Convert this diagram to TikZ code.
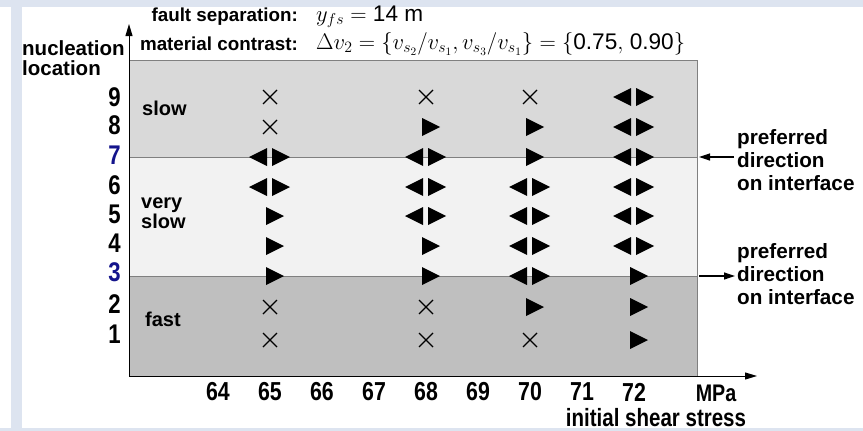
\RequirePackage{fix-cm}
\documentclass[tikz,border=0pt]{standalone}
\usepackage{fontspec}
\setmainfont{Liberation Sans}
\newfontfamily\narrowsans[FakeStretch=0.82]{Liberation Sans}
\usetikzlibrary{arrows.meta}

\definecolor{pageblue}{RGB}{221,228,240}
\definecolor{bandslow}{RGB}{217,217,217}
\definecolor{bandvslow}{RGB}{242,242,242}
\definecolor{bandfast}{RGB}{191,191,191}
\definecolor{rowblue}{RGB}{20,20,140}
\definecolor{edgegray}{RGB}{128,128,128}

\newcommand\pxsize[2]{\fontsize{#1}{#2}\selectfont}

\begin{document}
\begin{tikzpicture}[x=1pt,y=-1pt,
  lbl/.style={font=\bfseries\pxsize{20}{17}, align=left, inner sep=0pt},
  sidelbl/.style={font=\bfseries\pxsize{20.7}{23}, align=left, inner sep=0pt, anchor=west},
  headlbl/.style={font=\bfseries\pxsize{18.8}{20}, inner sep=0pt, anchor=east},
  headmath/.style={font=\pxsize{22.6}{23}, inner sep=0pt, anchor=west},
  ticklbl/.style={font=\narrowsans\bfseries\pxsize{26}{26}, inner sep=0pt},
  rowlbl/.style={font=\narrowsans\bfseries\pxsize{27}{27}, inner sep=0pt, anchor=east},
  axisline/.style={line width=1pt, -{Triangle[length=12pt,width=7pt]}},
  pointer/.style={line width=1.2pt, -{Triangle[length=11pt,width=7pt]}},
  bandedge/.style={edgegray, line width=0.9pt},
  crossline/.style={line width=1.3pt},
]
% page background and frame stripes
\useasboundingbox (0,0) rectangle (863,431);
\fill[white] (0,0) rectangle (863,431);
\fill[pageblue] (0,0) rectangle (863,7);
\fill[pageblue] (11,0) rectangle (22,431);
\fill[pageblue] (0,428) rectangle (863,431);

% speed bands
\fill[bandslow]  (129,60)  rectangle (697,157);
\fill[bandvslow] (129,157) rectangle (697,276);
\fill[bandfast]  (129,276) rectangle (697,376);
\draw[bandedge] (129,60) -- (697,60) -- (697,376);
\draw[bandedge] (129,157) -- (697,157);
\draw[bandedge] (129,276) -- (697,276);

% axes
\coordinate (origin) at (129,376);
\coordinate (ytip) at (129,24);
\coordinate (xtip) at (757,376);
\draw[axisline] (origin) -- (ytip);
\draw[axisline] (origin) -- (xtip);

% header
\node[headlbl] (hsep) at (298,17) {fault separation:};
\node[headlbl] (hmat) at (298,44) {material contrast:};
\node[headmath] (msep) at (316,17) {$y_{fs} = {}$14 m};
\node[headmath] (mmat) at (316,44) {$\Delta v_2 = \{v_{s_2}/v_{s_1}, v_{s_3}/v_{s_1}\} = \{$0.75$,$ 0.90$\}$};

% vertical axis title
\node[font=\bfseries\pxsize{20.5}{20}, align=left, inner sep=0pt, anchor=west] (ytitle) at (22,58) {nucleation\\location};

% row labels
\foreach \r/\y/\c in {9/97/black, 8/125/black, 7/155/rowblue, 6/185/black, 5/214/black, 4/243/black, 3/272/rowblue, 2/304/black, 1/334/black}
  \node[rowlbl, text=\c] (row\r) at (121,\y) {\r};

% tick labels
\foreach \k in {64,...,72}
  \node[ticklbl] (tick\k) at ({218+52*(\k-64)},392) {\k};
\node[font=\narrowsans\bfseries\pxsize{24}{24}, inner sep=0pt] (unit) at (716,393) {MPa};
\node[font=\narrowsans\bfseries\pxsize{25}{25}, inner sep=0pt] (xtitle) at (656,417.5) {initial shear stress};

% band names
\node[lbl, anchor=west] (lslow) at (142,108) {slow};
\node[lbl, anchor=west] (lvslow) at (141,213) {very\\slow};
\node[lbl, anchor=west] (lfast) at (145,319) {fast};

% preferred direction notes
\node[sidelbl] (prefup) at (737,160) {preferred\\direction\\on interface};
\node[sidelbl] (preflow) at (737,274) {preferred\\direction\\on interface};
\coordinate (upfrom) at (734,157);
\coordinate (upto) at (699,157);
\coordinate (lowfrom) at (699,276);
\coordinate (lowto) at (735,276);
\draw[pointer] (upfrom) -- (upto);
\draw[pointer] (lowfrom) -- (lowto);

% rupture outcomes: 0 = no rupture, 1 = rightward, 2 = bilateral
\foreach \c/\r/\t in {
  65/9/0, 68/9/0, 70/9/0, 72/9/2,
  65/8/0, 68/8/1, 70/8/1, 72/8/2,
  65/7/2, 68/7/2, 70/7/1, 72/7/2,
  65/6/2, 68/6/2, 70/6/2, 72/6/2,
  65/5/1, 68/5/2, 70/5/2, 72/5/2,
  65/4/1, 68/4/1, 70/4/2, 72/4/2,
  65/3/1, 68/3/1, 70/3/2, 72/3/1,
  65/2/0, 68/2/0, 70/2/1, 72/2/1,
  65/1/0, 68/1/0, 70/1/0, 72/1/1}
{
  \pgfmathsetmacro\cx{218+52*(\c-64)}
  \pgfmathsetmacro\cy{{0,340,307,276,246,216,187,157,127,97}[\r]}
  \ifnum\t=0
    \draw[crossline] (\cx-7,\cy-7) -- (\cx+7,\cy+7) (\cx-7,\cy+7) -- (\cx+7,\cy-7);
  \fi
  \ifnum\t=1
    \fill (\cx-4,\cy-9) -- (\cx+14,\cy) -- (\cx-4,\cy+9) -- cycle;
  \fi
  \ifnum\t=2
    \fill (\cx-3,\cy-9) -- (\cx-21,\cy) -- (\cx-3,\cy+9) -- cycle;
    \fill (\cx+2,\cy-9) -- (\cx+20,\cy) -- (\cx+2,\cy+9) -- cycle;
  \fi
}
\end{tikzpicture}
\end{document}
